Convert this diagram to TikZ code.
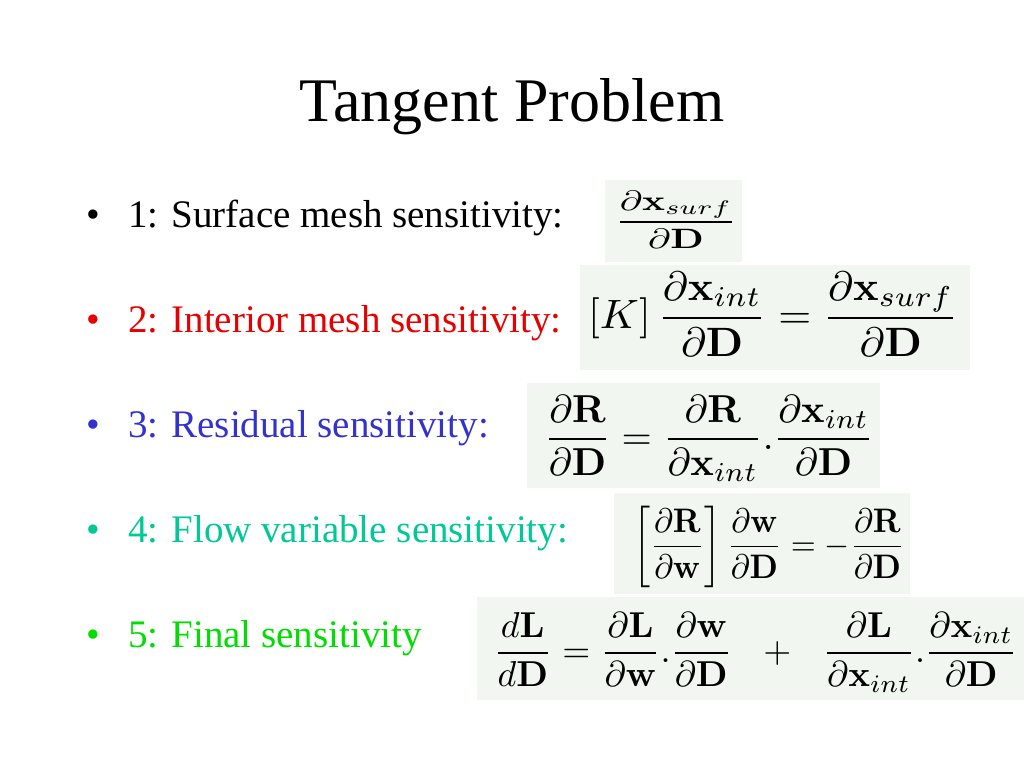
\documentclass[tikz,border=0pt]{standalone}
\usepackage{amsmath}
\usepackage{graphicx}
\usepackage[no-math]{fontspec}
\setmainfont{Liberation Serif}
\definecolor{eqbg}{HTML}{F1F6F1}
\definecolor{cred}{HTML}{E60000}
\definecolor{cblue}{HTML}{3333CC}
\definecolor{cteal}{HTML}{00C896}
\definecolor{cgreen}{HTML}{00DD00}
\tikzset{
  itemtext/.style={anchor=base west, inner sep=0pt, font=\fontsize{39}{45}\selectfont},
  bulletdot/.style={anchor=base, inner sep=0pt, font=\fontsize{39}{45}\selectfont},
  eqn/.style={anchor=base west, inner sep=0pt},
  eqbox/.style={fill=eqbg}
}
\newcommand{\bx}{\mathbf{x}}
\newcommand{\bD}{\mathbf{D}}
\newcommand{\bR}{\mathbf{R}}
\newcommand{\bw}{\mathbf{w}}
\newcommand{\bL}{\mathbf{L}}
\begin{document}
\begin{tikzpicture}[x=1pt,y=-1pt]
\useasboundingbox (0,0) rectangle (1024,768);
\fill[white] (0,0) rectangle (1024,768);

% title
\node[anchor=base, inner sep=0pt, font=\fontsize{62}{70}\selectfont] (title) at (512,121) {Tangent Problem};

% equation backgrounds
\fill[eqbox] (605,180) rectangle (742,262);
\fill[eqbox] (580,265) rectangle (970,370);
\fill[eqbox] (527,383) rectangle (880,488);
\fill[eqbox] (614,493) rectangle (910,594);
\fill[eqbox] (477,597) rectangle (1024,700);

% bullets
\node[bulletdot] (b1) at (93,227) {•};
\node[itemtext] (t1) at (128,227) {1: Surface mesh sensitivity:};
\node[bulletdot, text=cred] (b2) at (93,332) {•};
\node[itemtext, text=cred] (t2) at (128,332) {2: Interior mesh sensitivity:};
\node[bulletdot, text=cblue] (b3) at (93,437) {•};
\node[itemtext, text=cblue] (t3) at (128,437) {3: Residual sensitivity:};
\node[bulletdot, text=cteal] (b4) at (93,542) {•};
\node[itemtext, text=cteal] (t4) at (128,542) {4: Flow variable sensitivity:};
\node[bulletdot, text=cgreen] (b5) at (93,647) {•};
\node[itemtext, text=cgreen] (t5) at (128,647) {5: Final sensitivity};

% equations (baseline = bar + 0.25*size)
\node[eqn] (e1) at (615,229) {\scalebox{3.8}[2.8]{$\displaystyle \frac{\partial \bx_{surf}}{\partial \bD}$}};
\node[eqn] (e2) at (588,328) {\scalebox{4.24}[4.1]{$\displaystyle [K]\,\frac{\partial \bx_{int}}{\partial \bD} = \frac{\partial \bx_{surf}}{\partial \bD}$}};
\node[eqn] (e3) at (544,449) {\scalebox{3.9}{$\displaystyle \frac{\partial \bR}{\partial \bD} = \frac{\partial \bR}{\partial \bx_{int}}.\frac{\partial \bx_{int}}{\partial \bD}$}};
\node[eqn] (e4) at (633,555) {\scalebox{3.22}[3.4]{$\displaystyle \left[\frac{\partial \bR}{\partial \bw}\right]\frac{\partial \bw}{\partial \bD} = -\frac{\partial \bR}{\partial \bD}$}};
\node[eqn] (e5) at (493,662) {\scalebox{3.6}{$\displaystyle \frac{d\bL}{d\bD} = \frac{\partial \bL}{\partial \bw}.\frac{\partial \bw}{\partial \bD}\hspace{6.5pt} + \hspace{6.5pt}\frac{\partial \bL}{\partial \bx_{int}}.\frac{\partial \bx_{int}}{\partial \bD}$}};
\end{tikzpicture}
\end{document}
